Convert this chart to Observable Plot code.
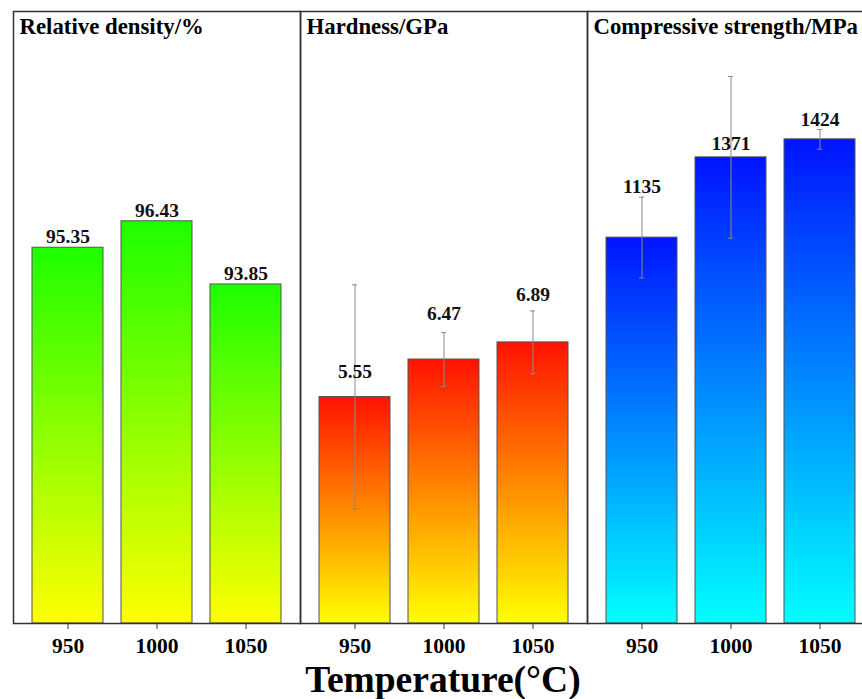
<!DOCTYPE html>
<html><head><meta charset="utf-8">
<script src="https://cdn.jsdelivr.net/npm/d3@7"></script>
<script src="https://cdn.jsdelivr.net/npm/@observablehq/plot@0.6"></script>
<style>
body{margin:0;background:#fff;overflow:hidden}
#wrap{position:relative;width:862px;height:699px;overflow:hidden;background:#fff}
#wrap svg{position:absolute;top:0;background:transparent}
#xtitle{position:absolute;top:661px;left:13px;width:860px;text-align:center;font-family:"Liberation Serif","Times New Roman",serif;font-weight:bold;font-size:37.5px;line-height:37px;color:#000}
</style>
</head><body><div id="wrap"></div>
<script>
const temperatures = ["950", "1000", "1050"];
const panelTitles = ["Relative density/%", "Hardness/GPa", "Compressive strength/MPa"];
const densityValues = [95.35, 96.43, 93.85];
const hardnessValues = [5.55, 6.47, 6.89];
const hardnessErrors = [2.75, 0.66, 0.77];
const strengthValues = [1135, 1371, 1424];
const strengthErrors = [119, 238, 29];
const hardnessLabelAt = [6.18, 7.60, 8.06];
const strengthLabelAt = [1285, 1412, 1482];
const xTitle = "Temperature(°C)";

const wrap = document.getElementById("wrap");
const FONT = '"Liberation Serif","Times New Roman",serif';

function panel(cfg) {
  const data = temperatures.map((t, i) => ({
    t,
    v: cfg.values[i],
    base: cfg.domain[0],
    e: cfg.errors ? cfg.errors[i] : null,
    ly: cfg.labelAt ? cfg.labelAt[i] : cfg.values[i],
    s: cfg.fmt(cfg.values[i])
  }));
  const defs = () => {
    const d = d3.create("svg:defs");
    const g = d.append("linearGradient").attr("id", cfg.gid)
      .attr("x1", 0).attr("y1", 0).attr("x2", 0).attr("y2", 1);
    g.append("stop").attr("offset", 0).attr("stop-color", cfg.top);
    g.append("stop").attr("offset", 1).attr("stop-color", cfg.bottom);
    return d.node();
  };
  const marks = [
    defs,
    Plot.barY(data, {x: "t", y1: "base", y2: "v", fill: `url(#${cfg.gid})`, stroke: "#555", strokeWidth: 1}),
  ];
  if (cfg.errors) {
    marks.push(
      Plot.ruleX(data, {x: "t", y1: d => d.v - d.e, y2: d => d.v + d.e, stroke: "#8a8a8a", strokeWidth: 1}),
      Plot.tickY(data, {x: "t", y: d => d.v + d.e, stroke: "#8a8a8a", strokeWidth: 1, insetLeft: 33, insetRight: 33}),
      Plot.tickY(data, {x: "t", y: d => d.v - d.e, stroke: "#8a8a8a", strokeWidth: 1, insetLeft: 33, insetRight: 33})
    );
  }
  marks.push(
    Plot.text(data, {x: "t", y: "ly", text: "s", dy: cfg.labelAt ? 0 : -11, fontSize: 19.5, fill: "#111"}),
    Plot.text([cfg.title], {frameAnchor: "top-left", text: d => d, textAnchor: "start", lineAnchor: "top", dx: 6, dy: 6, fontSize: 22.8, fill: "#000"}),
    Plot.frame({stroke: "#333", strokeWidth: 1.5}),
    Plot.axisX({tickSize: 6, tickPadding: 8, fontSize: 21.5, stroke: "#333", fill: "#000", label: null})
  );
  const svg = Plot.plot({
    width: 289, height: 660,
    marginLeft: 1, marginRight: 1, marginTop: 11, marginBottom: 37,
    style: {fontFamily: FONT, fontWeight: "bold", background: "transparent", overflow: "visible"},
    x: {type: "band", domain: temperatures, padding: 0.2},
    y: {domain: cfg.domain, axis: null},
    marks
  });
  svg.style.left = (cfg.left - 1) + "px";
  wrap.appendChild(svg);
}

panel({title: panelTitles[0], values: densityValues, domain: [80, 105], left: 13, gid: "gGreen", top: "#1eff00", bottom: "#ffff00", fmt: d => d.toFixed(2)});
panel({title: panelTitles[1], values: hardnessValues, errors: hardnessErrors, labelAt: hardnessLabelAt, domain: [0, 15], left: 300, gid: "gRed", top: "#ff1200", bottom: "#ffff00", fmt: d => d.toFixed(2)});
panel({title: panelTitles[2], values: strengthValues, errors: strengthErrors, labelAt: strengthLabelAt, domain: [0, 1800], left: 587, gid: "gBlue", top: "#0014ff", bottom: "#00ffff", fmt: d => String(d)});

const tt = document.createElement("div");
tt.id = "xtitle";
tt.textContent = xTitle;
wrap.appendChild(tt);
</script>
</body></html>
